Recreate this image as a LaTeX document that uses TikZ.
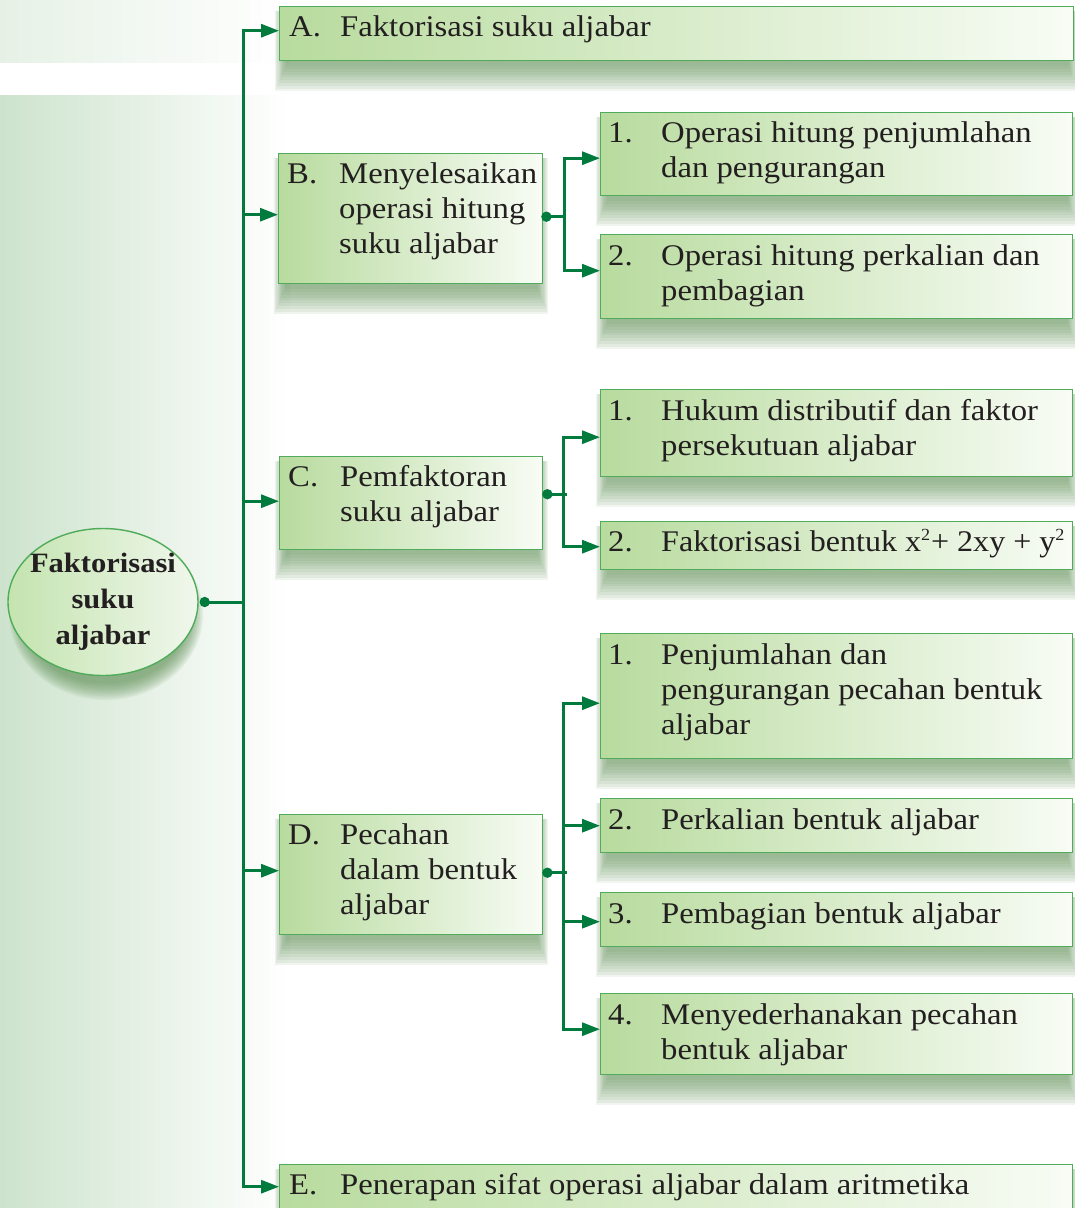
\documentclass[tikz,border=0pt]{standalone}
\usepackage{fontspec}
\setmainfont[FakeStretch=1.09]{Liberation Serif}
\usetikzlibrary{arrows.meta,calc,shapes.geometric}
\definecolor{lineg}{RGB}{0,122,61}
\definecolor{bord}{RGB}{80,172,90}
\definecolor{fillL}{RGB}{184,219,158}
\definecolor{fillR}{RGB}{248,252,245}
\definecolor{rootL}{RGB}{196,228,175}
\definecolor{rootR}{RGB}{240,247,236}
\definecolor{bgL}{RGB}{205,227,205}
\definecolor{bgT}{RGB}{230,241,230}
\definecolor{shad}{RGB}{90,140,80}
\definecolor{txtc}{RGB}{35,31,32}
\pgfdeclarelayer{bg}
\pgfsetlayers{bg,main}
\newcommand\itm[3]{\makebox[#1][l]{#2}\parbox[t]{900pt}{\raggedright #3}}
\newcommand\sqr{\raisebox{11pt}{\fontsize{17}{17}\selectfont 2}}
\newcommand\boxshadow[1]{%
  \foreach \k in {0,...,9}{%
    \fill[shad,opacity=0.09] ($(#1.north west)+(-4+\k*1.2,5)$) rectangle ($(#1.south east)+(5-\k*1.2,30-\k*2.8)$);
  }}
\begin{document}
\begin{tikzpicture}[x=1pt,y=-1pt,
  box/.style={draw=bord,line width=1.4pt,left color=fillL,right color=fillR,
    anchor=north west,inner sep=0pt,rectangle},
  rootnode/.style={ellipse,draw=bord,line width=1.4pt,left color=rootL,right color=rootR,
    minimum width=190pt,minimum height=147pt,inner sep=0pt},
  roottxt/.style={inner sep=0pt,align=center,text=txtc,font=\bfseries\fontsize{28}{36}\selectfont},
  txt/.style={anchor=base west,inner sep=0pt,text=txtc,font=\fontsize{30}{35}\selectfont},
  ln/.style={draw=lineg,line width=3pt},
  ar/.style={ln,-{Triangle[length=18pt,width=13pt]}},
  dotc/.style={fill=lineg}
]
\useasboundingbox (0,0) rectangle (1075,1208);

% boxes
\node[box,minimum width=794pt,minimum height=54pt]  (A)  at (279,6)    {};
\node[box,minimum width=264pt,minimum height=130pt] (B)  at (278,153)  {};
\node[box,minimum width=472pt,minimum height=83pt]  (B1) at (600,112)  {};
\node[box,minimum width=472pt,minimum height=84pt]  (B2) at (600,234)  {};
\node[box,minimum width=263pt,minimum height=93pt]  (C)  at (279,456)  {};
\node[box,minimum width=472pt,minimum height=87pt]  (C1) at (600,389)  {};
\node[box,minimum width=472pt,minimum height=48pt]  (C2) at (600,521)  {};
\node[box,minimum width=263pt,minimum height=120pt] (D)  at (279,814)  {};
\node[box,minimum width=472pt,minimum height=125pt] (D1) at (600,633)  {};
\node[box,minimum width=472pt,minimum height=54pt]  (D2) at (600,798)  {};
\node[box,minimum width=472pt,minimum height=54pt]  (D3) at (600,892)  {};
\node[box,minimum width=472pt,minimum height=81pt]  (D4) at (600,993)  {};
\node[box,minimum width=793pt,minimum height=50pt]  (E)  at (279,1164) {};

% root
\node[rootnode] (R) at (103,602) {};
\node[roottxt] (Rt) at (R.center) {Faktorisasi\\suku\\aljabar};

% background and shadows
\begin{pgfonlayer}{bg}
\shade[left color=bgT,right color=white] (0,0) rectangle (290,62);
\shade[left color=bgL,right color=white] (0,95) rectangle (290,1208);
\foreach \n in {A,B,B1,B2,C,C1,C2,D,D1,D2,D3,D4,E}{\boxshadow{\n}}
\foreach \k in {0,...,9}{
  \fill[shad,opacity=0.09] ($(R.center)+(3,12)$) ellipse [x radius={97pt-\k*1.5pt}, y radius={86pt-\k*1.8pt}];
}
\end{pgfonlayer}

% texts
\node[txt] (tA)  at ($(A.north west)+(10,30)$)  {\itm{51pt}{A.}{Faktorisasi suku aljabar}};
\node[txt] (tB)  at ($(B.north west)+(9,30)$)   {\itm{52pt}{B.}{Menyelesaikan\\operasi hitung\\suku aljabar}};
\node[txt] (tB1) at ($(B1.north west)+(8,30)$)  {\itm{53pt}{1.}{Operasi hitung penjumlahan\\dan pengurangan}};
\node[txt] (tB2) at ($(B2.north west)+(8,31)$)  {\itm{53pt}{2.}{Operasi hitung perkalian dan\\pembagian}};
\node[txt] (tC)  at ($(C.north west)+(9,30)$)   {\itm{52pt}{C.}{Pemfaktoran\\suku aljabar}};
\node[txt] (tC1) at ($(C1.north west)+(8,31)$)  {\itm{53pt}{1.}{Hukum distributif dan faktor\\persekutuan aljabar}};
\node[txt] (tC2) at ($(C2.north west)+(8,30)$)  {\itm{53pt}{2.}{\scalebox{0.98}[1]{Faktorisasi bentuk x\sqr\hspace{1pt}+ 2xy + y\sqr}}};
\node[txt] (tD)  at ($(D.north west)+(9,30)$)   {\itm{52pt}{D.}{Pecahan\\dalam bentuk\\aljabar}};
\node[txt] (tD1) at ($(D1.north west)+(8,31)$)  {\itm{53pt}{1.}{Penjumlahan dan\\pengurangan pecahan bentuk\\aljabar}};
\node[txt] (tD2) at ($(D2.north west)+(8,31)$)  {\itm{53pt}{2.}{Perkalian bentuk aljabar}};
\node[txt] (tD3) at ($(D3.north west)+(8,31)$)  {\itm{53pt}{3.}{Pembagian bentuk aljabar}};
\node[txt] (tD4) at ($(D4.north west)+(8,31)$)  {\itm{53pt}{4.}{Menyederhanakan pecahan\\bentuk aljabar}};
\node[txt] (tE)  at ($(E.north west)+(10,30)$)  {\itm{51pt}{E.}{Penerapan sifat operasi aljabar dalam aritmetika}};

% main connectors
\coordinate (Rd) at ($(R.east)+(6,0)$);
\coordinate (T) at (243,602);
\draw[ln] (Rd) -- (T);
\fill[dotc] (Rd) circle (5.2pt);
\draw[ar] (T) |- ($(A.west)+(0,-3)$);
\draw[ar] (T) |- ($(E.west)+(0,-3)$);
\draw[ar] ($(T |- B.west)+(0,-4)$) -- ($(B.west)+(0,-4)$);
\draw[ar] ($(T |- C.west)+(0,-2)$) -- ($(C.west)+(0,-2)$);
\draw[ar] ($(T |- D.west)+(0,-4)$) -- ($(D.west)+(0,-4)$);

% B branch
\coordinate (Bd) at ($(B.east)+(3,-2)$);
\coordinate (Bj) at ($(Bd)+(18,0)$);
\draw[ln] (Bd) -- (Bj);
\draw[ar] (Bj) |- ($(B1.west)+(0,4)$);
\draw[ar] (Bj) |- ($(B2.west)+(0,-6)$);
\fill[dotc] (Bd) circle (5.2pt);

% C branch
\coordinate (Cd) at ($(C.east)+(4,-9)$);
\coordinate (Cj) at ($(Cd)+(16,0)$);
\draw[ln] (Cd) -- ($(Cj)+(4,0)$);
\draw[ar] (Cj) |- ($(C1.west)+(0,4)$);
\draw[ar] (Cj) |- ($(C2.west)+(0,1)$);
\fill[dotc] (Cd) circle (5.2pt);

% D branch
\coordinate (Dd) at ($(D.east)+(4,-2)$);
\coordinate (Dj) at ($(Dd)+(16,0)$);
\draw[ln] (Dd) -- ($(Dj)+(4,0)$);
\draw[ar] (Dj) |- ($(D1.west)+(0,7)$);
\draw[ar] (Dj) |- (D2.west);
\draw[ar] (Dj) |- ($(D3.west)+(0,2)$);
\draw[ar] (Dj) |- ($(D4.west)+(0,-5)$);
\fill[dotc] (Dd) circle (5.2pt);
\end{tikzpicture}
\end{document}
